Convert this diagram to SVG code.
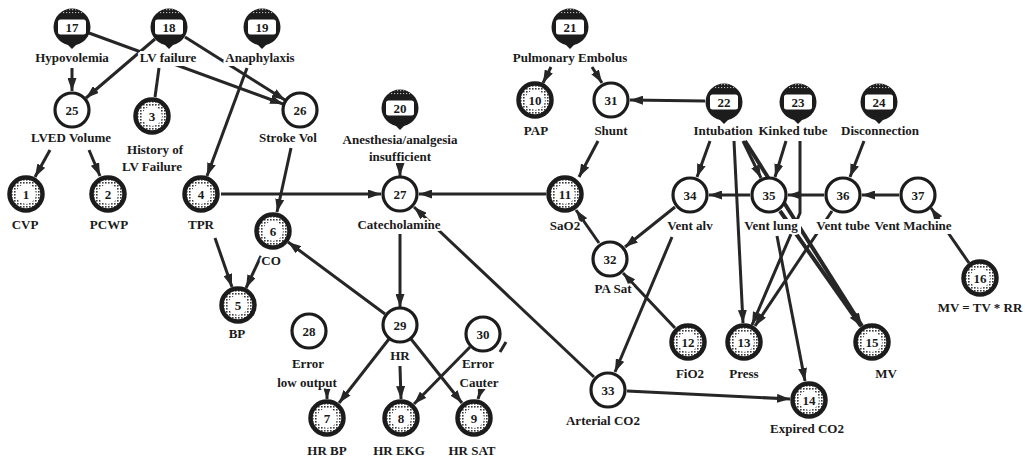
<svg xmlns="http://www.w3.org/2000/svg" xmlns:xlink="http://www.w3.org/1999/xlink" width="1025" height="459" viewBox="0 0 1025 459">
<style>
.num{font-family:"Liberation Serif",serif;font-weight:bold;font-size:13px;text-anchor:middle;fill:#1a1a1a}
.lbl{font-family:"Liberation Serif",serif;font-weight:bold;font-size:13px;text-anchor:middle;fill:#1a1a1a;stroke:#fff;stroke-width:4;stroke-linejoin:round;paint-order:stroke}
.bg{fill:#fff}
.e{fill:none;stroke:#262626;stroke-width:3;marker-end:url(#ah)}
.t{stroke-width:4}
.n{fill:none;stroke:#262626;stroke-width:3}
</style>
<defs>
<marker id="ah" markerUnits="userSpaceOnUse" markerWidth="13" markerHeight="9" refX="13" refY="4.5" orient="auto">
<path d="M0,0 L13,4.5 L0,9 Z" fill="#262626"/>
</marker>
<pattern id="stipd" width="3" height="3" patternUnits="userSpaceOnUse">
<rect width="3" height="3" fill="#fff"/><rect width="1.6" height="1.6" fill="#3a3a3a"/>
</pattern>
<pattern id="stipw" width="3" height="3" patternUnits="userSpaceOnUse">
<rect width="3" height="3" fill="#1c1c1c"/><rect width="1.2" height="1.2" fill="#bbb"/>
</pattern>
<g id="root">
<path d="M-6,16 L0,22 L6,16 Z" fill="#1c1c1c"/>
<circle r="18.5" fill="#1c1c1c"/>
<path d="M-12,-13.5 A18,18 0 0 1 12,-13.5 Z" fill="url(#stipw)"/>
<rect x="-14" y="-7.5" width="28" height="15" rx="2.5" fill="#fff"/>
</g>
<g id="obs">
<circle r="16.5" fill="url(#stipd)" stroke="#1c1c1c" stroke-width="4.5"/>
<circle r="10" fill="#fff"/>
</g>
<g id="mid">
<circle r="17" fill="#fff" stroke="#1c1c1c" stroke-width="3.2"/>
</g>
</defs>
<rect width="1025" height="459" fill="#fff"/>

<g id="connectors">
<path class="e" d="M72,68 L72,91"/>
<path class="e" d="M89,33 L283,104"/>
<path class="e" d="M155,39 L86,98"/>
<path class="n" d="M159,68 L155,97"/>
<path class="e" d="M185,37 L285,100"/>
<path class="e" d="M247,68 L207,176"/>
<path class="e" d="M50,150 L35,177"/>
<path class="e" d="M89,150 L100,176"/>
<path class="e" d="M221,194 L381,194"/>
<path class="e" d="M215,238 L232,287"/>
<path class="e" d="M291,148 L277,212"/>
<path class="e" d="M261,256 L246,288"/>
<path class="e" d="M385,314 L288,242"/>
<path class="e" d="M400,165 L400,176"/>
<path class="e" d="M546,194 L419,194"/>
<path class="e" d="M594,377 L414,207"/>
<path class="e" d="M400,234 L400,307"/>
<path class="e" d="M389,339 L339,403"/>
<path class="e" d="M400,366 L401,399"/>
<path class="e" d="M411,339 L462,403"/>
<path class="e" d="M327,390 L327,399"/>
<path class="e" d="M470,347 L414,404"/>
<path class="e" d="M481,390 L478,399"/>
<path class="e" d="M551,67 L543,83"/>
<path class="e" d="M592,67 L602,83"/>
<path class="e" d="M705,101 L630,100"/>
<path class="e" d="M598,141 L579,177"/>
<path class="e" d="M599,243 L576,210"/>
<path class="e" d="M675,207 L625,247"/>
<path class="e" d="M675,328 L623,273"/>
<path class="e" d="M672,237 L615,372"/>
<path class="e" d="M627,391 L790,399"/>
<path class="e" d="M777,236 L805,381"/>
<path class="e" d="M710,141 L697,177"/>
<path class="e" d="M750,195 L709,195"/>
<path class="e" d="M824,195 L788,195"/>
<path class="e" d="M899,195 L862,195"/>
<path class="e" d="M864,141 L850,177"/>
<path class="e" d="M786,141 L775,177"/>
<path class="e" d="M743,141 L761,178"/>
<path class="e t" d="M745,141 L862,326"/>
<path class="e t" d="M780,211 L861,326"/>
<path class="e" d="M734,141 L743,323"/>
<path class="e" d="M800,141 L800,213 L752,325"/>
<path class="e" d="M832,211 L755,326"/>
<path class="e" d="M969,263 L931,208"/>
</g>

<g id="n17"><use href="#root" x="72" y="27"/><text class="num" x="72" y="31.5">17</text><text class="lbl" x="72" y="62">Hypovolemia</text></g>
<g id="n18"><use href="#root" x="169" y="27"/><text class="num" x="169" y="31.5">18</text><rect class="bg" x="140" y="51" width="56" height="15"/><text class="lbl" x="168" y="62">LV failure</text></g>
<g id="n19"><use href="#root" x="262" y="27"/><text class="num" x="262" y="31.5">19</text><rect class="bg" x="224" y="51" width="72" height="15"/><text class="lbl" x="260" y="62">Anaphylaxis</text></g>
<g id="n20"><use href="#root" x="400" y="108"/><text class="num" x="400" y="112.5">20</text><text class="lbl" x="400" y="144">Anesthesia/analgesia</text><text class="lbl" x="400" y="161">insufficient</text></g>
<g id="n21"><use href="#root" x="570" y="27"/><text class="num" x="570" y="31.5">21</text><text class="lbl" x="570" y="62">Pulmonary Embolus</text></g>
<g id="n22"><use href="#root" x="724" y="102"/><text class="num" x="724" y="106.5">22</text><text class="lbl" x="723" y="135">Intubation</text></g>
<g id="n23"><use href="#root" x="798" y="102"/><text class="num" x="798" y="106.5">23</text><text class="lbl" x="793" y="135">Kinked tube</text></g>
<g id="n24"><use href="#root" x="879" y="102"/><text class="num" x="879" y="106.5">24</text><text class="lbl" x="880" y="135">Disconnection</text></g>

<g id="n25"><use href="#mid" x="72" y="110"/><text class="num" x="72" y="114.5">25</text><text class="lbl" x="71" y="142">LVED Volume</text></g>
<g id="n26"><use href="#mid" x="300" y="110"/><text class="num" x="300" y="114.5">26</text><text class="lbl" x="288" y="142">Stroke Vol</text></g>
<g id="n27"><use href="#mid" x="400" y="194"/><text class="num" x="400" y="198.5">27</text><text class="lbl" x="399" y="229">Catecholamine</text></g>
<g id="n28"><use href="#mid" x="309" y="331"/><text class="num" x="309" y="335.5">28</text><text class="lbl" x="308" y="368">Error</text><text class="lbl" x="307" y="387">low output</text></g>
<g id="n29"><use href="#mid" x="400" y="325"/><text class="num" x="400" y="329.5">29</text><text class="lbl" x="400" y="360">HR</text></g>
<g id="n30"><use href="#mid" x="483" y="334"/><text class="num" x="483" y="338.5">30</text><path d="M500,352 L506,342" class="n"/><text class="lbl" x="478" y="368">Error</text><text class="lbl" x="479" y="387">Cauter</text></g>
<g id="n31"><use href="#mid" x="611" y="100"/><text class="num" x="611" y="104.5">31</text><text class="lbl" x="611" y="135">Shunt</text></g>
<g id="n32"><use href="#mid" x="610" y="259"/><text class="num" x="610" y="263.5">32</text><text class="lbl" x="613" y="293">PA Sat</text></g>
<g id="n33"><use href="#mid" x="608" y="390"/><text class="num" x="608" y="394.5">33</text><text class="lbl" x="603" y="425">Arterial CO2</text></g>
<g id="n34"><use href="#mid" x="690" y="195"/><text class="num" x="690" y="199.5">34</text><rect class="bg" x="664" y="219" width="52" height="15"/><text class="lbl" x="690" y="230">Vent alv</text></g>
<g id="n35"><use href="#mid" x="769" y="195"/><text class="num" x="769" y="199.5">35</text><rect class="bg" x="741" y="219" width="60" height="15"/><text class="lbl" x="771" y="230">Vent lung</text></g>
<g id="n36"><use href="#mid" x="843" y="195"/><text class="num" x="843" y="199.5">36</text><rect class="bg" x="815" y="219" width="56" height="15"/><text class="lbl" x="843" y="230">Vent tube</text></g>
<g id="n37"><use href="#mid" x="918" y="195"/><text class="num" x="918" y="199.5">37</text><rect class="bg" x="873" y="219" width="81" height="15"/><text class="lbl" x="913" y="230">Vent Machine</text></g>

<g id="n1"><use href="#obs" x="26" y="194"/><text class="num" x="26" y="198.5">1</text><text class="lbl" x="25" y="229">CVP</text></g>
<g id="n2"><use href="#obs" x="108" y="194"/><text class="num" x="108" y="198.5">2</text><text class="lbl" x="109" y="229">PCWP</text></g>
<g id="n3"><use href="#obs" x="152" y="116"/><text class="num" x="152" y="120.5">3</text><text class="lbl" x="155" y="154">History of</text><text class="lbl" x="152" y="171">LV Failure</text></g>
<g id="n4"><use href="#obs" x="201" y="194"/><text class="num" x="201" y="198.5">4</text><text class="lbl" x="201" y="229">TPR</text></g>
<g id="n5"><use href="#obs" x="238" y="305"/><text class="num" x="238" y="309.5">5</text><text class="lbl" x="237" y="338">BP</text></g>
<g id="n6"><use href="#obs" x="273" y="231"/><text class="num" x="273" y="235.5">6</text><text class="lbl" x="271" y="265">CO</text></g>
<g id="n7"><use href="#obs" x="327" y="418"/><text class="num" x="327" y="422.5">7</text><text class="lbl" x="327" y="455">HR BP</text></g>
<g id="n8"><use href="#obs" x="401" y="418"/><text class="num" x="401" y="422.5">8</text><text class="lbl" x="399" y="455">HR EKG</text></g>
<g id="n9"><use href="#obs" x="474" y="418"/><text class="num" x="474" y="422.5">9</text><text class="lbl" x="472" y="455">HR SAT</text></g>
<g id="n10"><use href="#obs" x="535" y="100"/><text class="num" x="535" y="104.5">10</text><text class="lbl" x="536" y="135">PAP</text></g>
<g id="n11"><use href="#obs" x="565" y="194"/><text class="num" x="565" y="198.5">11</text><text class="lbl" x="565" y="230">SaO2</text></g>
<g id="n12"><use href="#obs" x="688" y="342"/><text class="num" x="688" y="346.5">12</text><text class="lbl" x="690" y="378">FiO2</text></g>
<g id="n13"><use href="#obs" x="744" y="342"/><text class="num" x="744" y="346.5">13</text><text class="lbl" x="744" y="378">Press</text></g>
<g id="n14"><use href="#obs" x="809" y="400"/><text class="num" x="809" y="404.5">14</text><text class="lbl" x="807" y="433">Expired CO2</text></g>
<g id="n15"><use href="#obs" x="872" y="342"/><text class="num" x="872" y="346.5">15</text><text class="lbl" x="886" y="378">MV</text></g>
<g id="n16"><use href="#obs" x="980" y="278"/><text class="num" x="980" y="282.5">16</text><text class="lbl" x="980" y="312">MV = TV * RR</text></g>
</svg>
